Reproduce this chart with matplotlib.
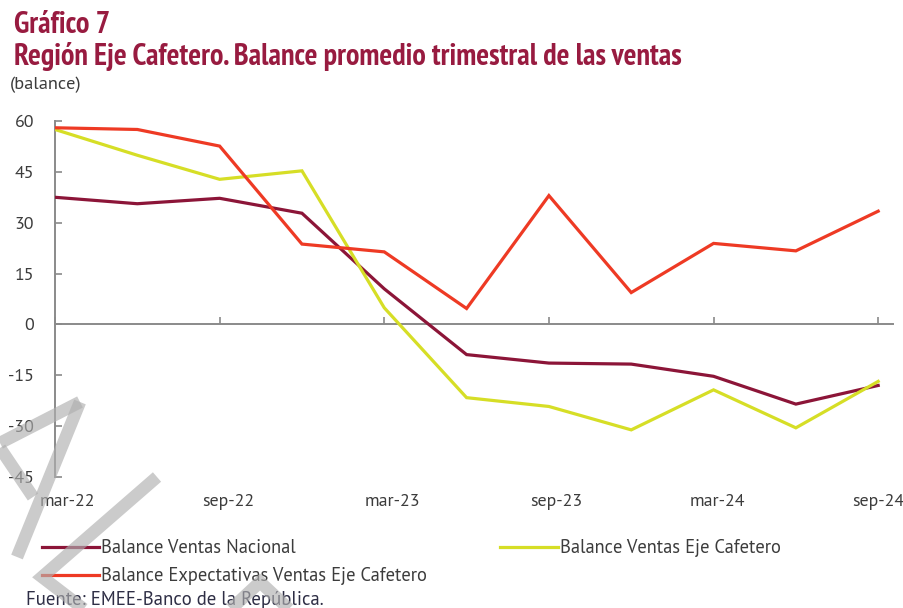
import matplotlib
matplotlib.use("Agg")
import matplotlib.pyplot as plt
from matplotlib.lines import Line2D
from matplotlib.transforms import ScaledTranslation

# ---------------- data ----------------
quarters = ["mar-22", "jun-22", "sep-22", "dec-22", "mar-23", "jun-23",
            "sep-23", "dec-23", "mar-24", "jun-24", "sep-24"]
tick_labels = ["mar-22", "sep-22", "mar-23", "sep-23", "mar-24", "sep-24"]
ventas_nacional = [37.5, 35.6, 37.2, 32.8, 10.5, -8.9, -11.4, -11.7, -15.3, -23.5, -18.0]
ventas_eje = [57.5, 49.9, 42.8, 45.3, 4.9, -21.6, -24.2, -31.1, -19.3, -30.5, -16.8]
expectativas_eje = [58.0, 57.5, 52.6, 23.7, 21.4, 4.7, 38.0, 9.4, 23.9, 21.7, 33.4]
yticks = [60, 45, 30, 15, 0, -15, -30, -45]

series_names = ["Balance Ventas Nacional", "Balance Ventas Eje Cafetero",
                "Balance Expectativas Ventas Eje Cafetero"]

# ---------------- style ----------------
W, H, DPI = 904, 608, 100
C_NAC = "#8C1538"
C_EJE = "#D6DE26"
C_EXP = "#EE3A24"
C_TITLE = "#981B40"
C_AXIS = "#8A8A8A"
C_TXT = "#3C3C3C"
F_NARROW = ["PT Sans Narrow", "DejaVu Sans"]
F_REG = ["PT Sans", "DejaVu Sans"]

fig = plt.figure(figsize=(W / DPI, H / DPI), dpi=DPI)
renderer = fig.canvas.get_renderer()


def fy(px):
    return 1 - px / H


def fx(px):
    return px / W


def fit(t, target):
    w = t.get_window_extent(renderer).width
    t.set_fontsize(t.get_fontsize() * target / w)
    return t


def fit_size(text, family, target, weight="normal"):
    t = fig.text(0, 0, text, family=family, fontsize=12, weight=weight)
    fit(t, target)
    s = t.get_fontsize()
    t.remove()
    return s


# axes: x 55..893 px, y 121..477 px
x0, x1 = 55, 893
ytop, ybot = 121, 477
ax = fig.add_axes([fx(x0), fy(ybot), fx(x1 - x0), (ybot - ytop) / H])
ax.patch.set_alpha(0)

xs = list(range(len(quarters)))
l_nac, = ax.plot(xs, ventas_nacional, color=C_NAC, lw=2.3, solid_joinstyle="miter", zorder=3)
l_eje, = ax.plot(xs, ventas_eje, color=C_EJE, lw=2.3, solid_joinstyle="miter", zorder=3)
l_exp, = ax.plot(xs, expectativas_eje, color=C_EXP, lw=2.3, solid_joinstyle="miter", zorder=3)

ax.set_xlim(0, 10.18)
ax.set_ylim(-45, 60)

for s in ["top", "right"]:
    ax.spines[s].set_visible(False)
ax.spines["left"].set_color(C_AXIS)
ax.spines["left"].set_linewidth(1.4)
ax.spines["bottom"].set_position(("data", 0))
ax.spines["bottom"].set_color(C_AXIS)
ax.spines["bottom"].set_linewidth(1.4)

tick_pos = [quarters.index(q) for q in tick_labels]
ax.set_xticks(tick_pos)
ax.tick_params(axis="x", direction="in", length=5, width=1.2, color=C_AXIS, labelbottom=False)

tick_fs = fit_size("mar-22", F_REG, 55)
ax.set_yticks(yticks)
ax.set_yticklabels([str(v) for v in yticks])
ax.tick_params(axis="y", direction="in", length=5, width=1.2, color=C_AXIS,
               labelsize=tick_fs, labelcolor=C_TXT, pad=15)
for lab in ax.get_yticklabels():
    lab.set_family(F_REG)

sec = ax.secondary_xaxis("bottom")
sec.set_xticks(tick_pos)
sec.set_xticklabels(tick_labels)
sec.spines["bottom"].set_visible(False)
sec.tick_params(axis="x", length=0, pad=12, labelsize=tick_fs, labelcolor=C_TXT)
label_shift_px = [12, 9, 8, 7, 4, 0]
for lab, dx in zip(sec.get_xticklabels(), label_shift_px):
    lab.set_family(F_REG)
    lab.set_transform(lab.get_transform() + ScaledTranslation(dx / DPI, 0, fig.dpi_scale_trans))

# ---------------- titles ----------------
t1 = fig.text(fx(14), fy(33), "Gráfico 7", family=F_NARROW, weight="bold",
              color=C_TITLE, fontsize=12, va="baseline")
fit(t1, 96)
t2 = fig.text(fx(14), fy(65), "Región Eje Cafetero. Balance promedio trimestral de las ventas",
              family=F_NARROW, weight="bold", color=C_TITLE, fontsize=12, va="baseline")
fit(t2, 666)
t3 = fig.text(fx(10), fy(89), "(balance)", family=F_REG, color=C_TXT, fontsize=10, va="baseline")
fit(t3, 72)
t4 = fig.text(fx(26), fy(605), "Fuente: EMEE-Banco de la República.", family=F_REG,
              color="#2E2E45", fontsize=10, va="baseline")
fit(t4, 297)

# ---------------- legend ----------------
leg_fs = fit_size(series_names[0], F_REG, 194)
leg = fig.legend([l_nac, l_exp, l_eje], [series_names[0], series_names[2], series_names[1]],
                 ncol=2, loc="upper left", bbox_to_anchor=(fx(42), fy(539)),
                 frameon=False, borderpad=0, borderaxespad=0,
                 handlelength=3.1, handletextpad=0.1, columnspacing=3.95,
                 labelspacing=0.56, prop={"family": F_REG, "size": leg_fs})
for t in leg.get_texts():
    t.set_color(C_TXT)

# ---------------- watermark strokes (decoration) ----------------
watermark = [
    [(80, 402), (17, 557)],
    [(0, 443), (80, 402)],
    [(0, 448), (33, 497)],
    [(157, 477), (42, 577), (85, 610)],
    [(230, 610), (260, 582), (290, 610)],
]
for stroke in watermark:
    xs_w = [fx(p[0]) for p in stroke]
    ys_w = [fy(p[1]) for p in stroke]
    fig.add_artist(Line2D(xs_w, ys_w, transform=fig.transFigure, color="#AFAFAF",
                          alpha=0.65, lw=9, solid_joinstyle="miter",
                          solid_capstyle="butt", zorder=10))

fig.savefig("out.png", dpi=DPI)
